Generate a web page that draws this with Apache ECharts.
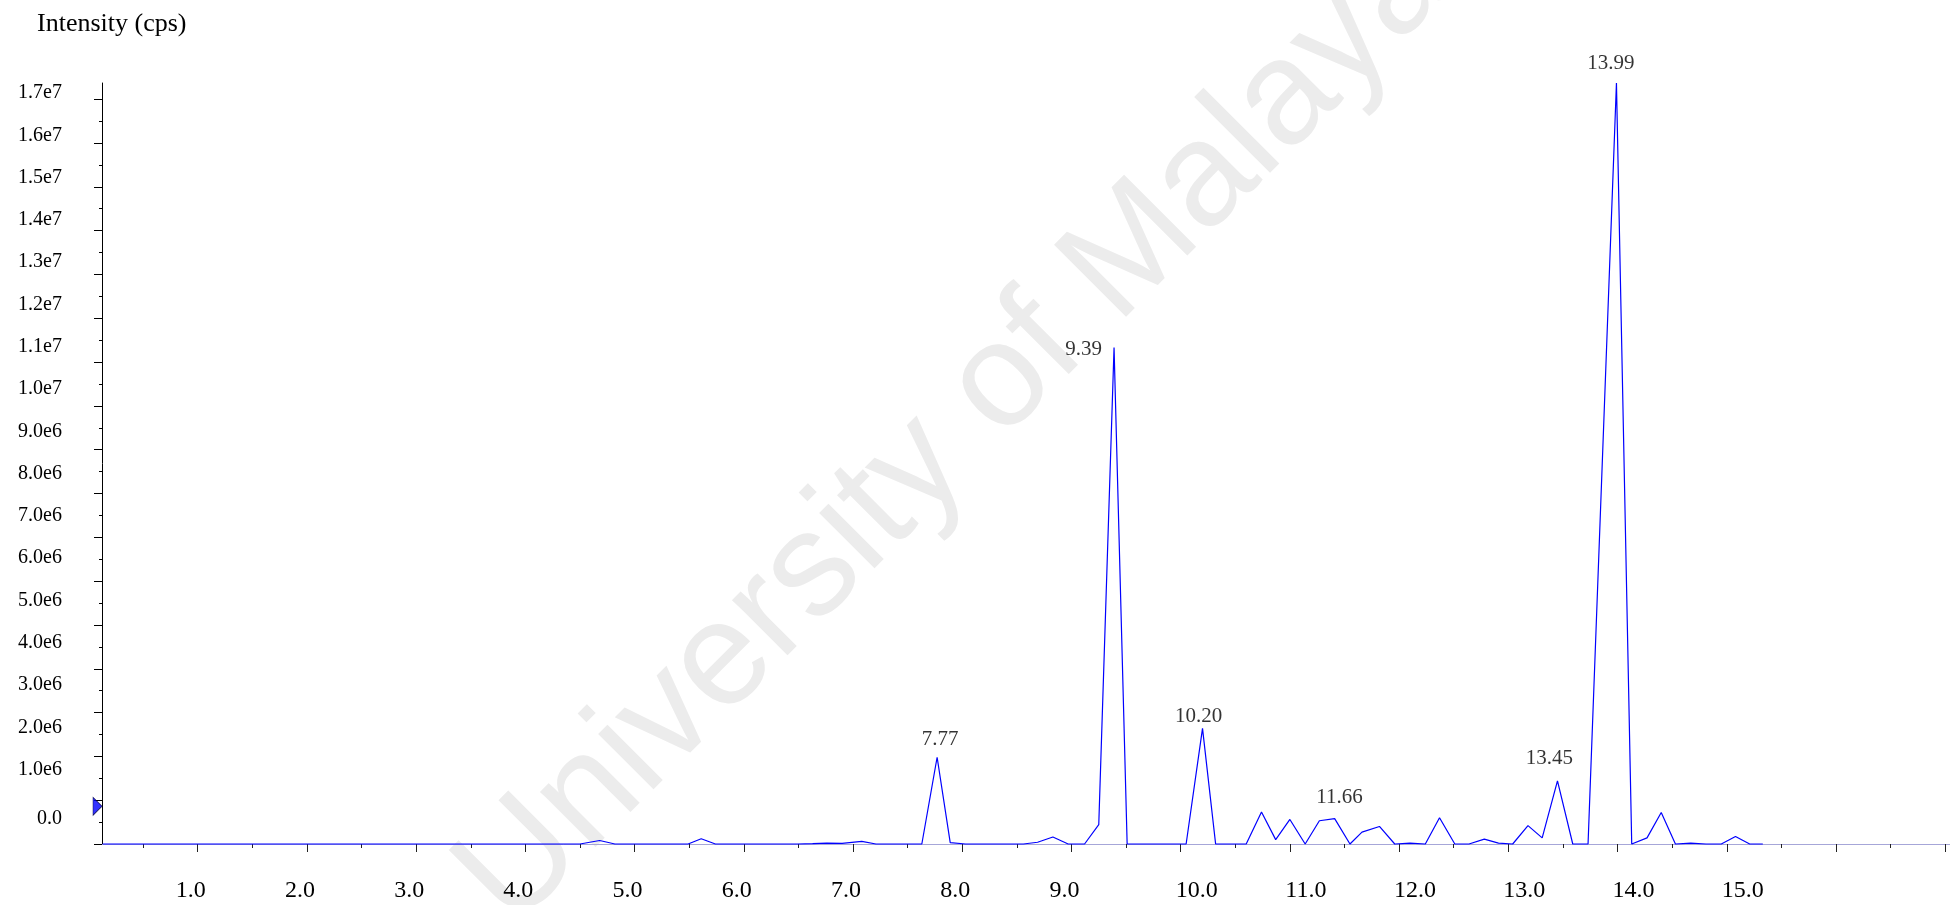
<!DOCTYPE html>
<html>
<head>
<meta charset="utf-8">
<script src="https://cdn.jsdelivr.net/npm/echarts@6/dist/echarts.min.js"></script>
<style>
  html, body { margin: 0; padding: 0; background: #ffffff; }
  #chart { width: 1950px; height: 905px; }
</style>
</head>
<body>
<div id="chart"></div>
<script>
// Total ion chromatogram: retention time (min) against intensity (cps)
const retentionTime = [
  0.13, 4.50, 4.68, 4.82, 5.49, 5.61, 5.74, 6.49, 6.63, 6.76, 6.90, 7.08, 7.21,
  7.63, 7.77, 7.89, 8.03, 8.56, 8.69, 8.83, 8.97, 9.12, 9.25, 9.39, 9.51,
  10.05, 10.20, 10.32, 10.60, 10.74, 10.87, 11.00, 11.14, 11.27, 11.41, 11.55,
  11.66, 11.82, 11.96, 12.10, 12.24, 12.37, 12.51, 12.64, 12.78, 12.91, 13.04,
  13.18, 13.31, 13.45, 13.59, 13.73, 13.99, 14.13, 14.27, 14.40, 14.53, 14.67,
  14.81, 14.95, 15.08, 15.21, 15.33
];
const intensity = [
  0, 0, 80000, 0, 0, 120000, 0, 0, 10000, 20000, 15000, 60000, 0,
  0, 1980000, 30000, 0, 0, 40000, 160000, 0, 0, 440000, 11330000, 0,
  0, 2640000, 0, 0, 730000, 100000, 560000, 0, 530000, 580000, 0,
  270000, 400000, 0, 20000, 0, 600000, 0, 0, 110000, 20000, 0,
  420000, 140000, 1440000, 0, 0, 17370000, 0, 140000, 720000, 0, 20000,
  0, 0, 170000, 0, 0
];
// Retention times of the annotated peaks
const peakTimes = [7.77, 9.39, 10.20, 11.66, 13.45, 13.99];

// Axis ticks and tick labels
const xTickMajor = [1, 2, 3, 4, 5, 6, 7, 8, 9, 10, 11, 12, 13, 14, 15, 16, 17];
const xTickMinor = [0.5, 1.5, 2.5, 3.5, 4.5, 5.5, 6.5, 7.5, 8.5, 9.5, 10.5, 11.5, 12.5, 13.5, 14.5, 15.5, 16.5];
const xTickLabels = [1, 2, 3, 4, 5, 6, 7, 8, 9, 10, 11, 12, 13, 14, 15];
const yTickMajor = [0, 1e6, 2e6, 3e6, 4e6, 5e6, 6e6, 7e6, 8e6, 9e6, 1e7, 1.1e7, 1.2e7, 1.3e7, 1.4e7, 1.5e7, 1.6e7, 1.7e7];
const yTickMinor = [5e5, 1.5e6, 2.5e6, 3.5e6, 4.5e6, 5.5e6, 6.5e6, 7.5e6, 8.5e6, 9.5e6, 1.05e7, 1.15e7, 1.25e7, 1.35e7, 1.45e7, 1.55e7, 1.65e7];
const yTickLabels = ['0.0', '1.0e6', '2.0e6', '3.0e6', '4.0e6', '5.0e6', '6.0e6', '7.0e6', '8.0e6', '9.0e6',
  '1.0e7', '1.1e7', '1.2e7', '1.3e7', '1.4e7', '1.5e7', '1.6e7', '1.7e7'];

// Axis extents and the intensity threshold marker
const xRange = [0.1236, 17.044];
const yMax = 17370000;
const thresholdLevel = 860000;

const SERIF = "'Liberation Serif', 'Times New Roman', serif";

// Placement of each peak's retention-time label relative to its apex
const peakLabelStyle = {
  '7.77':  { position: 'top',  distance: 0,  offset: [3, -7.5] },
  '9.39':  { position: 'left', distance: 12, offset: [0, 2] },
  '10.20': { position: 'top',  distance: 0,  offset: [-4, -1.5] },
  '11.66': { position: 'top',  distance: 0,  offset: [-22.5, -24.5] },
  '13.45': { position: 'top',  distance: 0,  offset: [-8, -11.5] },
  '13.99': { position: 'top',  distance: 0,  offset: [-5.5, -9.5] }
};

const tracePoints = retentionTime.map((t, i) => [t, intensity[i]]);
const peakPoints = peakTimes.map(t => {
  const i = retentionTime.indexOf(t);
  return { value: [t, intensity[i]], label: Object.assign({}, peakLabelStyle[t.toFixed(2)]) };
});

const chart = echarts.init(document.getElementById('chart'), null, { renderer: 'canvas' });

chart.setOption({
  animation: false,
  backgroundColor: '#ffffff',
  title: {
    text: 'Intensity (cps)',
    left: 32,
    top: 6,
    textStyle: { fontFamily: SERIF, fontSize: 26, fontWeight: 'normal', color: '#000' }
  },
  graphic: [{
    type: 'text',
    x: 955,
    y: 430,
    rotation: 45 * Math.PI / 180,
    z: -100,
    silent: true,
    style: {
      text: 'University of Malaya',
      font: "148px 'Liberation Sans', Arial, sans-serif",
      fill: '#ececec',
      align: 'center',
      verticalAlign: 'middle',
      textAlign: 'center',
      textVerticalAlign: 'middle'
    }
  }],
  grid: [
    { left: 102, top: 83, right: 0, height: 761, outerBoundsMode: 'none', containLabel: false },
    { left: 102, top: 93, width: 1, height: 719, outerBoundsMode: 'none', containLabel: false }
  ],
  xAxis: [
    {
      gridIndex: 0, type: 'value', position: 'bottom', min: xRange[0], max: xRange[1],
      axisLine: { show: true, onZero: false, lineStyle: { color: '#a6a6d8', width: 1 } },
      axisTick: { show: true, customValues: xTickMajor, length: 8, lineStyle: { color: '#222', width: 1 } },
      axisLabel: {
        show: true, customValues: xTickLabels, margin: 35,
        formatter: v => (v >= 10 ? '{w|' : '{n|') + v.toFixed(1) + '}',
        rich: {
          n: { fontFamily: SERIF, fontSize: 24, lineHeight: 24, color: '#000', padding: [0, 14, 0, 0] },
          w: { fontFamily: SERIF, fontSize: 24, lineHeight: 24, color: '#000', padding: [0, 0, 0, 32] }
        }
      },
      splitLine: { show: false }
    },
    {
      gridIndex: 0, type: 'value', position: 'bottom', min: xRange[0], max: xRange[1],
      axisLine: { show: false, onZero: false },
      axisTick: { show: true, customValues: xTickMinor, length: 4, lineStyle: { color: '#222', width: 1 } },
      axisLabel: { show: false },
      splitLine: { show: false }
    },
    { gridIndex: 1, type: 'value', position: 'bottom', show: false, min: 0, max: 1 }
  ],
  yAxis: [
    {
      gridIndex: 0, type: 'value', position: 'left', min: 0, max: yMax,
      axisLine: { show: true, onZero: false, lineStyle: { color: '#000', width: 1 } },
      axisTick: { show: true, customValues: yTickMajor, length: 8, lineStyle: { color: '#000', width: 1 } },
      axisLabel: { show: false },
      splitLine: { show: false }
    },
    {
      gridIndex: 0, type: 'value', position: 'left', min: 0, max: yMax,
      axisLine: { show: false, onZero: false },
      axisTick: { show: true, customValues: yTickMinor, length: 3, lineStyle: { color: '#000', width: 1 } },
      axisLabel: { show: false },
      splitLine: { show: false }
    },
    {
      gridIndex: 1, type: 'value', position: 'left', min: 0, max: 1.7e7, interval: 1e6,
      axisLine: { show: false, onZero: false },
      axisTick: { show: false },
      splitLine: { show: false },
      axisLabel: {
        show: true, margin: 40, fontFamily: SERIF, fontSize: 20, color: '#000',
        formatter: v => {
          const i = Math.round(v / 1e6);
          return i === 0 ? '{z|' + yTickLabels[0] + '}' : yTickLabels[i];
        },
        rich: {
          z: { fontFamily: SERIF, fontSize: 20, lineHeight: 20, color: '#000', padding: [14, 0, 0, 0] }
        }
      }
    }
  ],
  series: [
    {
      name: 'TIC',
      type: 'line',
      xAxisIndex: 0,
      yAxisIndex: 0,
      data: tracePoints,
      showSymbol: false,
      symbol: 'none',
      clip: false,
      lineStyle: { color: '#0000ff', width: 1.2 },
      z: 3
    },
    {
      name: 'Peak labels',
      type: 'scatter',
      xAxisIndex: 0,
      yAxisIndex: 0,
      data: peakPoints,
      symbolSize: 0,
      clip: false,
      label: {
        show: true,
        fontFamily: SERIF,
        fontSize: 21,
        color: '#000',
        formatter: p => p.value[0].toFixed(2)
      },
      z: 4
    },
    {
      name: 'Threshold',
      type: 'scatter',
      xAxisIndex: 0,
      yAxisIndex: 0,
      data: [[xRange[0], thresholdLevel]],
      symbol: 'triangle',
      symbolRotate: -90,
      symbolSize: [18, 9],
      symbolOffset: [-4.5, 0],
      clip: false,
      itemStyle: { color: '#0000ff', borderColor: '#000044', borderWidth: 0.8 },
      z: 5
    }
  ]
});
</script>
</body>
</html>
